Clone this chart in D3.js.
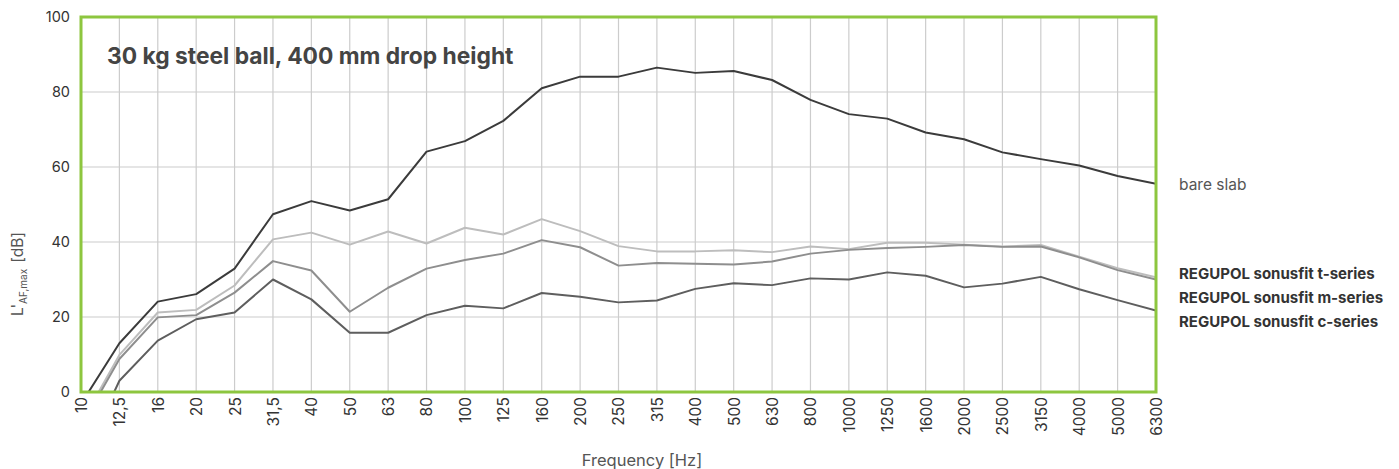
<!DOCTYPE html>
<html>
<head>
<meta charset="utf-8">
<script src="https://cdn.jsdelivr.net/npm/d3@7"></script>
<style>
  body { margin: 0; background: #fff; }
  svg text { font-family: "Inter", "Noto Sans", sans-serif; }
</style>
</head>
<body>
<script>
// third-octave bands
var bands = ["10", "12,5", "16", "20", "25", "31,5", "40", "50", "63", "80", "100", "125", "160", "200",
             "250", "315", "400", "500", "630", "800", "1000", "1250", "1600", "2000", "2500", "3150",
             "4000", "5000", "6300"];

var bareSlab = [-3.2, 13.0, 24.1, 26.1, 32.9, 47.4, 50.9, 48.4, 51.4, 64.1, 66.9, 72.3, 81.0, 84.1,
                84.1, 86.5, 85.1, 85.6, 83.2, 77.9, 74.1, 72.9, 69.2, 67.4, 63.9, 62.1, 60.4, 57.6, 55.5];
var tSeries = [-8.4, 9.9, 21.2, 21.9, 28.4, 40.7, 42.5, 39.3, 42.8, 39.6, 43.8, 42.0, 46.1, 42.9,
               38.9, 37.5, 37.5, 37.8, 37.3, 38.8, 38.1, 39.8, 39.8, 39.3, 38.8, 39.2, 36.1, 33.0, 30.6];
var mSeries = [-9.2, 8.8, 19.9, 20.5, 26.5, 34.9, 32.4, 21.4, 27.8, 32.9, 35.2, 36.9, 40.5, 38.6,
               33.7, 34.4, 34.2, 34.0, 34.8, 36.9, 37.9, 38.4, 38.7, 39.2, 38.7, 38.8, 35.9, 32.5, 30.0];
var cSeries = [-19, 3.0, 13.7, 19.4, 21.2, 30.0, 24.7, 15.8, 15.8, 20.5, 23.0, 22.3, 26.4, 25.4,
               23.9, 24.4, 27.5, 29.0, 28.5, 30.3, 30.0, 31.9, 31.0, 27.9, 28.9, 30.7, 27.4, 24.5, 21.7];

var yTicks = [0, 20, 40, 60, 80, 100];

// chart settings
var p = {
    width: 1399,
    height: 469,
    left: 81,
    right: 1156,
    top: 17,
    bottom: 392,
    green: "#8dc63f",
};

var series = [
    { name: "bare slab", values: bareSlab, color: "#3b3b3b", bold: false, ly: 185 },
    { name: "REGUPOL sonusfit t-series", values: tSeries, color: "#bdbdbd", bold: true, ly: 274 },
    { name: "REGUPOL sonusfit m-series", values: mSeries, color: "#8e8e8e", bold: true, ly: 298 },
    { name: "REGUPOL sonusfit c-series", values: cSeries, color: "#5e5e5e", bold: true, ly: 322 },
];

var svg = d3.select("body").append("svg").attr("width", p.width).attr("height", p.height);

var x = d3.scalePoint().domain(bands).range([p.left, p.right]);
var y = d3.scaleLinear().domain([0, 100]).range([p.bottom, p.top]);

// grid
var grid = svg.append("g");
grid.selectAll(".vg").data(bands.slice(1, -1)).enter().append("line")
    .attr("x1", d => x(d)).attr("x2", d => x(d))
    .attr("y1", p.top).attr("y2", p.bottom)
    .style("stroke", "#cccccc").style("stroke-width", 1.2);
grid.selectAll(".hg").data(yTicks.slice(1, -1)).enter().append("line")
    .attr("x1", p.left).attr("x2", p.right)
    .attr("y1", d => y(d)).attr("y2", d => y(d))
    .style("stroke", "#cccccc").style("stroke-width", 1.2);

// clip lines to the plot
svg.append("clipPath").attr("id", "plotclip").append("rect")
    .attr("x", p.left).attr("y", p.top)
    .attr("width", p.right - p.left).attr("height", p.bottom - p.top);

var line = d3.line().x((d, i) => x(bands[i])).y(d => y(d));

svg.append("g").attr("clip-path", "url(#plotclip)")
    .selectAll("path").data(series).enter().append("path")
    .attr("d", d => line(d.values))
    .style("fill", "none")
    .style("stroke", d => d.color)
    .style("stroke-width", 2)
    .style("stroke-linejoin", "round");

// green frame
svg.append("rect")
    .attr("x", p.left).attr("y", p.top)
    .attr("width", p.right - p.left).attr("height", p.bottom - p.top)
    .style("fill", "none").style("stroke", p.green).style("stroke-width", 3);

// y axis
var yAxis = svg.append("g").attr("transform", "translate(" + (p.left - 11) + ",0)")
    .call(d3.axisLeft(y).tickValues(yTicks).tickSize(0).tickPadding(0));
yAxis.select(".domain").remove();
yAxis.selectAll("text").style("font-size", "14.5px").style("fill", "#333");

// x axis
var xAxis = svg.append("g").attr("transform", "translate(0," + (p.bottom + 5) + ")")
    .call(d3.axisBottom(x).tickSize(0).tickPadding(0));
xAxis.select(".domain").remove();
xAxis.selectAll("text")
    .attr("transform", "rotate(-90)")
    .attr("x", 0).attr("y", 0).attr("dy", "0.35em")
    .style("text-anchor", "end")
    .style("font-size", "15.5px").style("fill", "#333");

// axis titles
svg.append("text")
    .attr("x", 642).attr("y", 466)
    .style("text-anchor", "middle").style("font-size", "16.5px").style("fill", "#555")
    .text("Frequency [Hz]");

var yl = svg.append("text")
    .attr("transform", "translate(23,274) rotate(-90)")
    .style("text-anchor", "middle").style("font-size", "15.5px").style("fill", "#555");
yl.append("tspan").text("L'");
yl.append("tspan").attr("dy", 4).style("font-size", "10px").text("AF,max");
yl.append("tspan").attr("dy", -4).attr("dx", 6).text("[dB]");

// chart title
svg.append("text")
    .attr("x", 107).attr("y", 64)
    .style("font-size", "22.8px").style("font-weight", "bold").style("fill", "#444")
    .text("30 kg steel ball, 400 mm drop height");

// series labels
svg.selectAll(".lbl").data(series).enter().append("text")
    .attr("x", 1179).attr("y", d => d.ly).attr("dy", "0.35em")
    .style("font-size", d => d.bold ? "15px" : "15.5px")
    .style("font-weight", d => d.bold ? "bold" : "normal")
    .style("fill", d => d.bold ? "#333" : "#555")
    .text(d => d.name);
</script>
</body>
</html>
